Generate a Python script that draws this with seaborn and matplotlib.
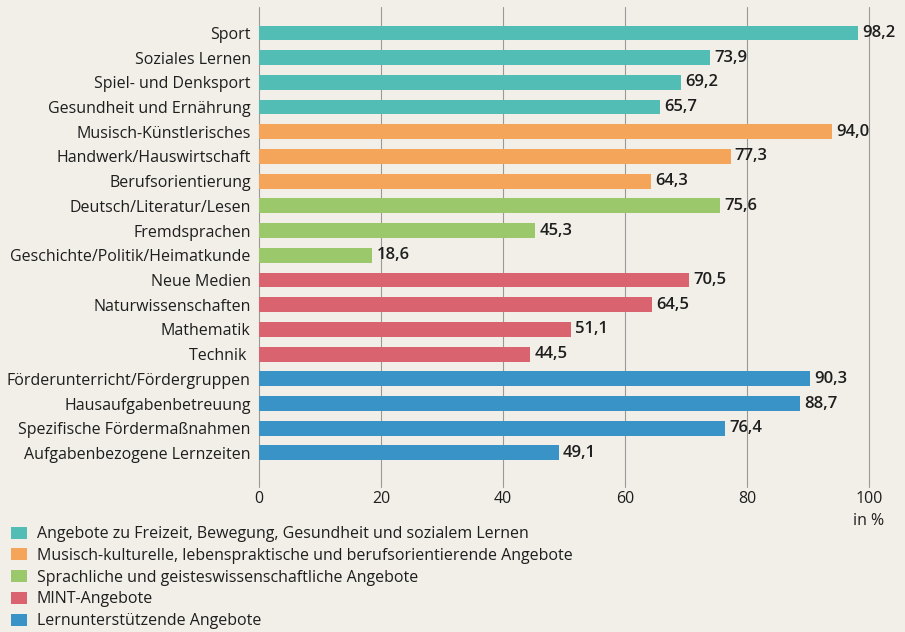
import pandas as pd
import seaborn as sns
import matplotlib.pyplot as plt
from matplotlib.patches import Patch

categories = [
    "Sport", "Soziales Lernen", "Spiel- und Denksport", "Gesundheit und Ernährung",
    "Musisch-Künstlerisches", "Handwerk/Hauswirtschaft", "Berufsorientierung",
    "Deutsch/Literatur/Lesen", "Fremdsprachen", "Geschichte/Politik/Heimatkunde",
    "Neue Medien", "Naturwissenschaften", "Mathematik", "Technik ",
    "Förderunterricht/Fördergruppen", "Hausaufgabenbetreuung",
    "Spezifische Fördermaßnahmen", "Aufgabenbezogene Lernzeiten",
]
values = [98.2, 73.9, 69.2, 65.7, 94.0, 77.3, 64.3, 75.6, 45.3, 18.6,
          70.5, 64.5, 51.1, 44.5, 90.3, 88.7, 76.4, 49.1]
groups = [
    "Angebote zu Freizeit, Bewegung, Gesundheit und sozialem Lernen",
    "Musisch-kulturelle, lebenspraktische und berufsorientierende Angebote",
    "Sprachliche und geisteswissenschaftliche Angebote",
    "MINT-Angebote",
    "Lernunterstützende Angebote",
]
group_sizes = [4, 3, 3, 4, 4]
colors = ["#52bdb4", "#f5a55a", "#9ac86a", "#d9636f", "#3a93c6"]

group_col = [g for g, n in zip(groups, group_sizes) for _ in range(n)]
df = pd.DataFrame({"Angebot": categories, "Wert": values, "Gruppe": group_col})

bg = "#f2efe8"
txt = "#1e1e1e"
sns.set_style("white")
plt.rcParams["font.family"] = ["Open Sans", "DejaVu Sans"]

fig = plt.figure(figsize=(9.05, 6.32), dpi=100, facecolor=bg)
ax = fig.add_axes([259 / 905, 1 - 487 / 632, 610 / 905, 480 / 632])
ax.set_facecolor(bg)

sns.barplot(data=df, y="Angebot", x="Wert", hue="Gruppe", palette=colors,
            dodge=False, width=0.6, legend=False, ax=ax, saturation=1,
            edgecolor="none", linewidth=0)

for cont in ax.containers:
    labels = [f"{v:.1f}".replace(".", ",") if v == v else "" for v in cont.datavalues]
    ax.bar_label(cont, labels=labels, padding=3, fontsize=12, fontweight="semibold",
                 color=txt)

ax.set_xlim(0, 100)
ax.set_ylim(len(categories) - 1 + 1.38, -1.05)
ax.set_xticks([0, 20, 40, 60, 80, 100])
ax.grid(axis="x", color="#999999", linewidth=0.8)
for gl in ax.get_xgridlines():
    gl.set_clip_on(False)
ax.set_axisbelow(True)
for s in ax.spines.values():
    s.set_visible(False)
ax.tick_params(axis="both", length=0, labelsize=11.5, colors=txt)
ax.tick_params(axis="x", pad=3)
ax.tick_params(axis="y", pad=6)
ax.set_xlabel("")
ax.set_ylabel("")
fig.text(869 / 905, 1 - 521 / 632, "in %", ha="center", va="center",
         fontsize=11.5, color=txt)

handles = [Patch(facecolor=c, edgecolor="none") for c in colors]
fig.legend(handles, groups, loc="upper left", bbox_to_anchor=(0.0, 1 - 515 / 632),
           frameon=False, fontsize=11.5, handlelength=1.0, handleheight=0.8,
           handletextpad=0.6, labelspacing=0.36, borderaxespad=0.3,
           labelcolor=txt)

fig.savefig("out.png", dpi=100, facecolor=bg)
